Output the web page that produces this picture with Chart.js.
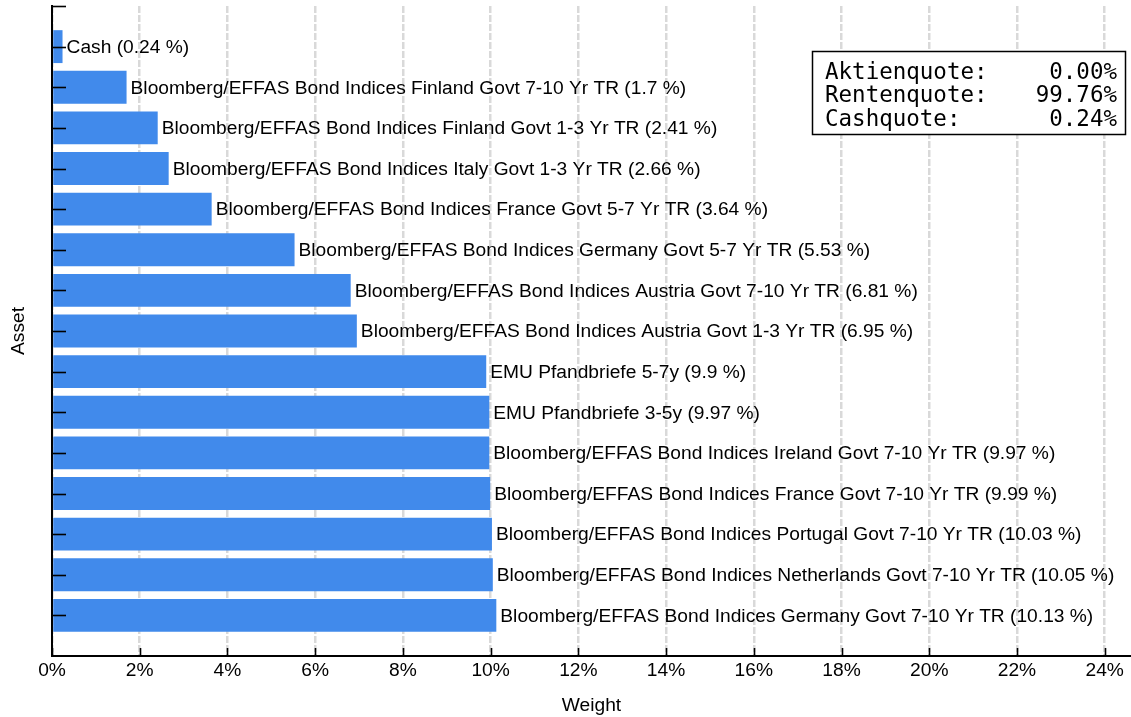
<!DOCTYPE html>
<html><head><meta charset="utf-8">
<script src="https://cdn.jsdelivr.net/npm/chart.js@4/dist/chart.umd.min.js"></script>
<style>html,body{margin:0;padding:0;background:#fff}#wrap{width:1131px;height:717px;position:relative}</style>
</head><body><div id="wrap"><canvas id="c"></canvas></div>
<script>
const assets = [
  'Cash',
  'Bloomberg/EFFAS Bond Indices Finland Govt 7-10 Yr TR',
  'Bloomberg/EFFAS Bond Indices Finland Govt 1-3 Yr TR',
  'Bloomberg/EFFAS Bond Indices Italy Govt 1-3 Yr TR',
  'Bloomberg/EFFAS Bond Indices France Govt 5-7 Yr TR',
  'Bloomberg/EFFAS Bond Indices Germany Govt 5-7 Yr TR',
  'Bloomberg/EFFAS Bond Indices Austria Govt 7-10 Yr TR',
  'Bloomberg/EFFAS Bond Indices Austria Govt 1-3 Yr TR',
  'EMU Pfandbriefe 5-7y',
  'EMU Pfandbriefe 3-5y',
  'Bloomberg/EFFAS Bond Indices Ireland Govt 7-10 Yr TR',
  'Bloomberg/EFFAS Bond Indices France Govt 7-10 Yr TR',
  'Bloomberg/EFFAS Bond Indices Portugal Govt 7-10 Yr TR',
  'Bloomberg/EFFAS Bond Indices Netherlands Govt 7-10 Yr TR',
  'Bloomberg/EFFAS Bond Indices Germany Govt 7-10 Yr TR'
];
const weights = [0.24, 1.7, 2.41, 2.66, 3.64, 5.53, 6.81, 6.95, 9.9, 9.97, 9.97, 9.99, 10.03, 10.05, 10.13];
const xTickValues = [0, 2, 4, 6, 8, 10, 12, 14, 16, 18, 20, 22, 24];
const quoteLabels = ['Aktienquote:', 'Rentenquote:', 'Cashquote:'];
const quoteValues = ['0.00%', '99.76%', '0.24%'];
const xTitle = 'Weight';
const yTitle = 'Asset';

const SANS = '"Liberation Sans", Arial, sans-serif';
const MONO = '"DejaVu Sans Mono", monospace';
const FS = 19.2;

const labels = [''].concat(assets, ['']);
const data = [null].concat(weights, [null]);

const overlay = {
  id: 'overlay',
  afterDatasetsDraw(chart) {
    const ctx = chart.ctx;
    const xs = chart.scales.x, ys = chart.scales.y;
    const area = chart.chartArea;
    ctx.save();
    // bar labels
    ctx.fillStyle = '#000';
    ctx.font = FS + 'px ' + SANS;
    ctx.textBaseline = 'middle';
    ctx.textAlign = 'left';
    const meta = chart.getDatasetMeta(0);
    meta.data.forEach((el, i) => {
      if (data[i] === null) return;
      ctx.fillText(labels[i] + ' (' + data[i] + ' %)', el.x + 4, el.y + 1);
    });
    // y tick marks (inward)
    ctx.strokeStyle = '#000';
    ctx.lineWidth = 1.6;
    for (let i = 0; i < labels.length - 1; i++) {
      const y = Math.round(ys.getPixelForValue(i)) + 0.5;
      ctx.beginPath();
      ctx.moveTo(area.left, y);
      ctx.lineTo(area.left + 14, y);
      ctx.stroke();
    }
    // x tick marks (inward)
    xTickValues.forEach(v => {
      const x = Math.round(xs.getPixelForValue(v)) + 0.5;
      ctx.beginPath();
      ctx.moveTo(x, area.bottom);
      ctx.lineTo(x, area.bottom - 8);
      ctx.stroke();
    });
    // quote box
    const bx = 812, by = 51, bw = 313, bh = 83;
    ctx.fillStyle = '#fff';
    ctx.fillRect(bx, by, bw, bh);
    ctx.lineWidth = 1.5;
    ctx.strokeRect(bx + 0.5, by + 0.5, bw, bh);
    ctx.fillStyle = '#000';
    ctx.font = '22.5px ' + MONO;
    ctx.textBaseline = 'middle';
    quoteLabels.forEach((t, i) => {
      const y = by + 22 + i * 23.5;
      ctx.textAlign = 'left';
      ctx.fillText(t, bx + 13, y);
      ctx.textAlign = 'right';
      ctx.fillText(quoteValues[i], bx + bw - 8, y);
    });
    ctx.restore();
  }
};

new Chart(document.getElementById('c'), {
  type: 'bar',
  data: {
    labels: labels,
    datasets: [{
      data: data,
      backgroundColor: '#418AEB',
      borderWidth: 0,
      categoryPercentage: 1,
      barPercentage: 0.81
    }]
  },
  options: {
    indexAxis: 'y',
    responsive: true,
    maintainAspectRatio: false,
    animation: false,
    layout: { padding: { top: 6, right: 0, left: 0, bottom: 0 } },
    plugins: { legend: { display: false }, tooltip: { enabled: false } },
    scales: {
      x: {
        type: 'linear',
        min: 0,
        max: 24.6,
        afterBuildTicks: s => { s.ticks = xTickValues.map(v => ({ value: v })); },
        afterFit: s => { s.height = 61; },
        grid: { color: '#d9d9d9', lineWidth: 2.5, drawTicks: false },
        border: { color: '#000', width: 2, dash: [7, 2] },
        ticks: {
          color: '#000',
          font: { family: SANS, size: FS },
          padding: 3,
          maxRotation: 0,
          callback: v => v + '%'
        },
        title: {
          display: true, text: xTitle, color: '#000',
          font: { family: SANS, size: FS },
          padding: { top: 4, bottom: 0 }
        }
      },
      y: {
        type: 'category',
        offset: false,
        afterFit: s => { s.width = 52; },
        grid: { display: false, drawTicks: false },
        border: { color: '#000', width: 2 },
        ticks: { display: false },
        title: {
          display: true, text: yTitle, color: '#000',
          font: { family: SANS, size: FS },
          padding: { top: 7, bottom: 0 }
        }
      }
    }
  },
  plugins: [overlay]
});
</script>
</body></html>
